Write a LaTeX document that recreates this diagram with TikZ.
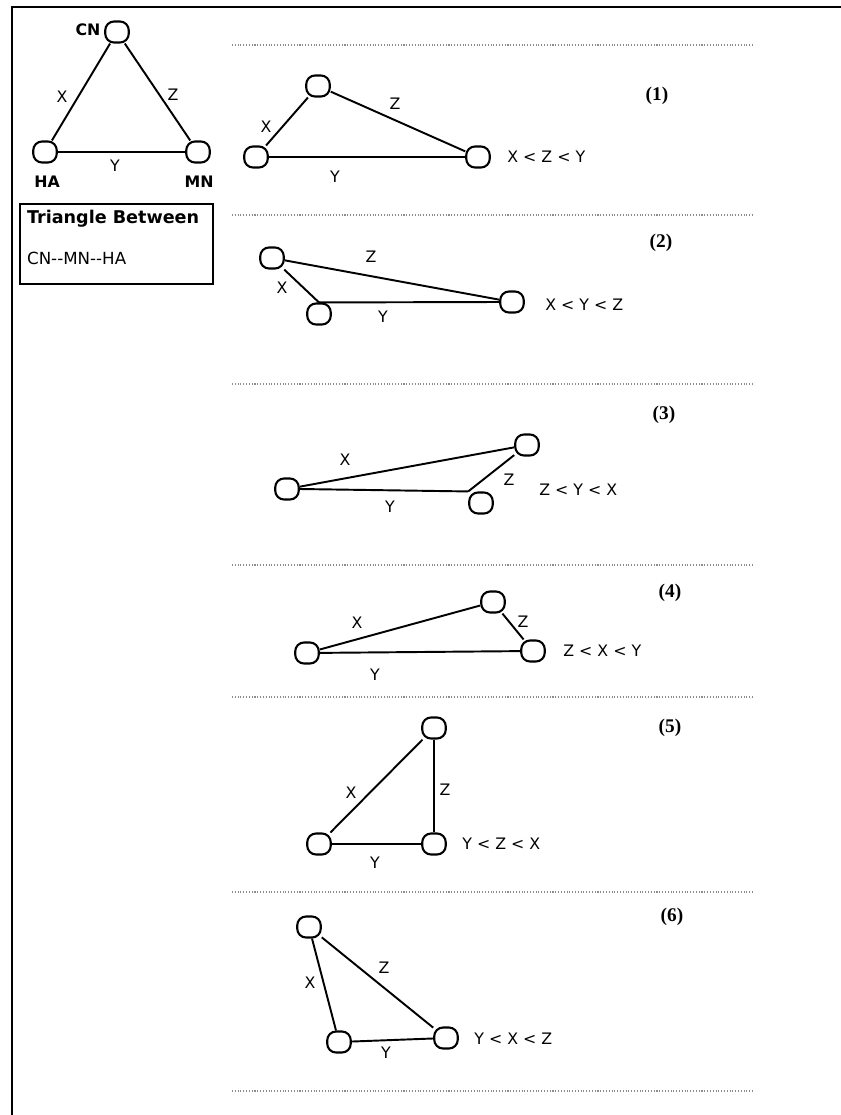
\documentclass[tikz,border=0pt]{standalone}
\usepackage{fontspec}
\setsansfont{DejaVu Sans}
\setmainfont{Liberation Serif}
\usepackage{tikz}
\usetikzlibrary{positioning}

\begin{document}
\begin{tikzpicture}[
  x=0.02cm, y=-0.02cm,
  vert/.style={draw, line width=1.2pt, rounded corners=5pt, minimum width=0.47cm,
               minimum height=0.42cm, inner sep=0pt},
  link/.style={line width=1.1pt},
  lbl/.style={font=\sffamily\fontsize{9}{10}\selectfont, inner sep=1pt},
  site/.style={font=\sffamily\bfseries\fontsize{9}{10}\selectfont, inner sep=1pt},
  order/.style={font=\sffamily\fontsize{9}{10}\selectfont, anchor=west, inner sep=0pt},
  tag/.style={font=\rmfamily\bfseries\fontsize{11}{12}\selectfont, inner sep=0pt},
  sep/.style={draw=black!45, densely dotted, line width=0.6pt}
]
\useasboundingbox (0,0) rectangle (841,1115);
\draw[line width=1.2pt] (12,1115) -- (12,7) -- (841,7);

\node[vert] (cn) at (117,32) {};
\node[vert] (ha) at (45,152) {};
\node[vert] (mn) at (198,152) {};
\node[site] (cnname) at (88,30) {CN};
\node[site] (haname) at (47,182) {HA};
\node[site] (mnname) at (199,182) {MN};
\draw[link] (cn) -- (ha);
\draw[link] (cn) -- (mn);
\draw[link] (ha) -- (mn);
\node[lbl] (xmain) at (62,97) {X};
\node[lbl] (zmain) at (173,95) {Z};
\node[lbl] (ymain) at (115,166) {Y};
\node[draw, line width=1.2pt, minimum width=3.86cm, minimum height=1.6cm] (legend) at (116.5,244) {};
\node[site, anchor=west, font=\sffamily\bfseries\fontsize{10}{12}\selectfont] (legendtop) at (25,219) {Triangle Between};
\node[lbl, anchor=west, font=\sffamily\fontsize{9.5}{11}\selectfont] (legendbot) at (25,258) {CN-{}-MN-{}-HA};

\foreach \yy in {45,215,384,565,697,892,1091}
  \draw[sep] (232,\yy) -- (753,\yy);

\node[vert] (p1top) at (318,86) {};
\node[vert] (p1left) at (256,157) {};
\node[vert] (p1right) at (478,157) {};
\draw[link] (p1top) -- (p1left);
\draw[link] (p1top) -- (p1right);
\draw[link] (p1left) -- (p1right);
\node[lbl] (p1x) at (266,127) {X};
\node[lbl] (p1z) at (395,104) {Z};
\node[lbl] (p1y) at (335,177) {Y};
\node[order] (p1order) at (507,157) {X < Z < Y};
\node[tag] (p1tag) at (657,96) {(1)};

\node[vert] (p2top) at (272,258) {};
\node[vert] (p2left) at (319,314) {};
\node[vert] (p2right) at (512,302) {};
\draw[link] (p2top) -- (p2left.north);
\draw[link] (p2top) -- (p2right);
\draw[link] (p2left.north) -- (p2right.west);
\node[lbl] (p2x) at (282,288) {X};
\node[lbl] (p2z) at (371,257) {Z};
\node[lbl] (p2y) at (383,317) {Y};
\node[order] (p2order) at (545,305) {X < Y < Z};
\node[tag] (p2tag) at (661,243) {(2)};

\node[vert] (p3left) at (287,489) {};
\node[vert] (p3top) at (527,445) {};
\node[vert] (p3right) at (481,503) {};
\draw[link] (p3left) -- (p3top);
\draw[link] (p3top) -- (p3right.north west);
\draw[link] (p3left.east) -- (p3right.north west);
\node[lbl] (p3x) at (345,460) {X};
\node[lbl] (p3z) at (509,480) {Z};
\node[lbl] (p3y) at (390,507) {Y};
\node[order] (p3order) at (539,490) {Z < Y < X};
\node[tag] (p3tag) at (664,415) {(3)};

\node[vert] (p4left) at (307,653) {};
\node[vert] (p4top) at (493,602) {};
\node[vert] (p4right) at (533,651) {};
\draw[link] (p4left) -- (p4top);
\draw[link] (p4top) -- (p4right);
\draw[link] (p4left) -- (p4right);
\node[lbl] (p4x) at (357,623) {X};
\node[lbl] (p4z) at (523,622) {Z};
\node[lbl] (p4y) at (375,675) {Y};
\node[order] (p4order) at (563,651) {Z < X < Y};
\node[tag] (p4tag) at (670,593) {(4)};

\node[vert] (p5top) at (434,728) {};
\node[vert] (p5left) at (319,844) {};
\node[vert] (p5right) at (434,844) {};
\draw[link] (p5top) -- (p5left);
\draw[link] (p5top) -- (p5right);
\draw[link] (p5left) -- (p5right);
\node[lbl] (p5x) at (351,793) {X};
\node[lbl] (p5z) at (445,790) {Z};
\node[lbl] (p5y) at (375,863) {Y};
\node[order] (p5order) at (462,844) {Y < Z < X};
\node[tag] (p5tag) at (670,728) {(5)};

\node[vert] (p6top) at (309,927) {};
\node[vert] (p6left) at (339,1042) {};
\node[vert] (p6right) at (446,1038) {};
\draw[link] (p6top) -- (p6left);
\draw[link] (p6top) -- (p6right);
\draw[link] (p6left) -- (p6right);
\node[lbl] (p6x) at (310,983) {X};
\node[lbl] (p6z) at (384,968) {Z};
\node[lbl] (p6y) at (386,1053) {Y};
\node[order] (p6order) at (474,1039) {Y < X < Z};
\node[tag] (p6tag) at (672,917) {(6)};

\end{tikzpicture}
\end{document}
